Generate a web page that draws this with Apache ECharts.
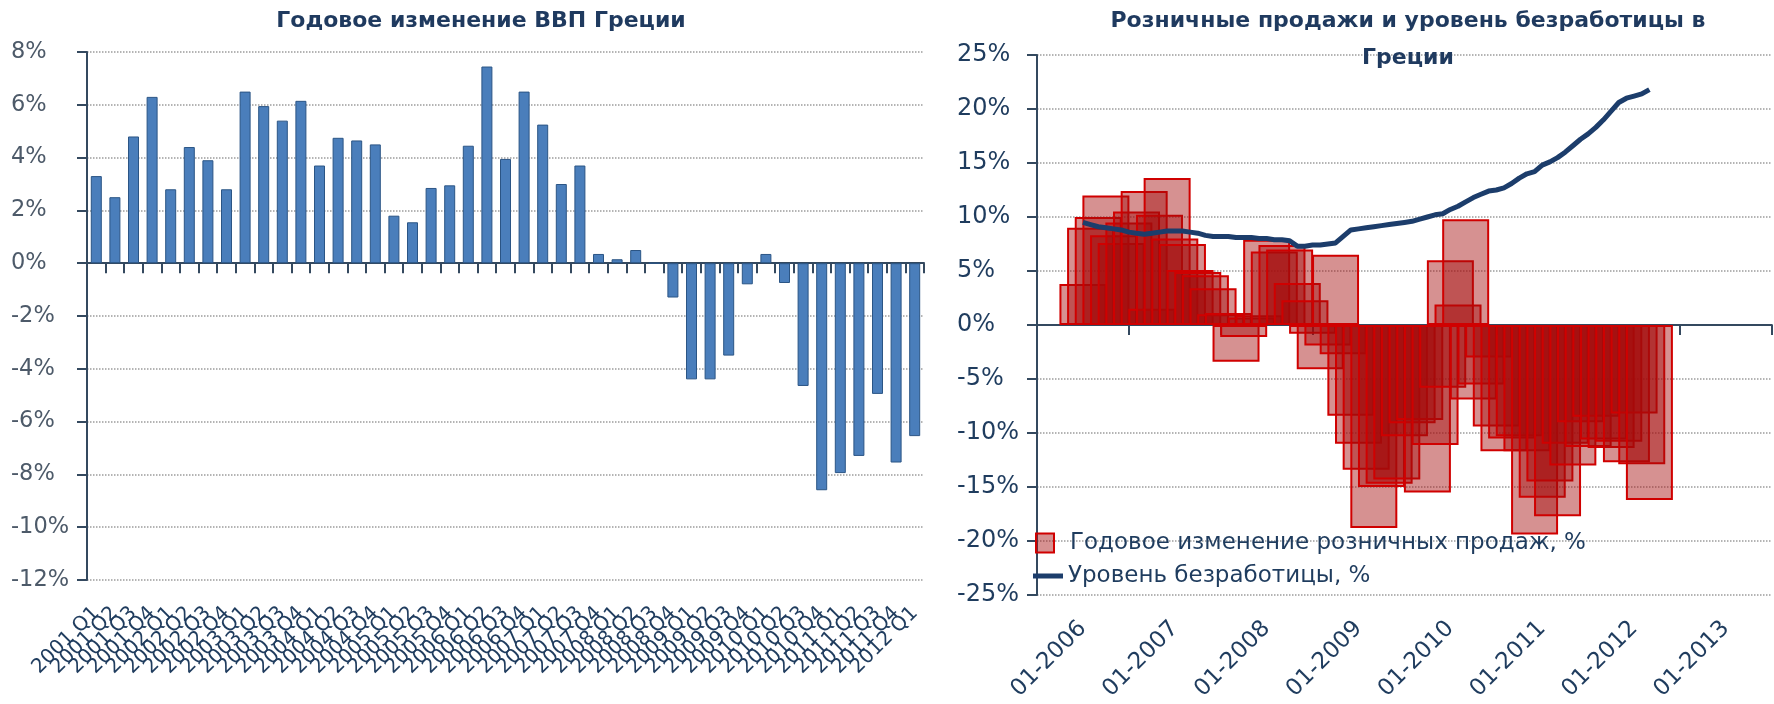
<!DOCTYPE html>
<html>
<head>
<meta charset="utf-8">
<script src="https://cdn.jsdelivr.net/npm/echarts@6/dist/echarts.min.js"></script>
<style>
html,body{margin:0;padding:0;background:#ffffff;}
#chart{width:1774px;height:704px;}
</style>
</head>
<body>
<div id="chart"></div>
<script>
// ---------- DATA ----------
const leftTitle = 'Годовое изменение ВВП Греции';
const rightTitle = 'Розничные продажи и уровень безработицы в\nГреции';

const gdpQuarters = [
  '2001 Q1','2001 Q2','2001 Q3','2001 Q4',
  '2002 Q1','2002 Q2','2002 Q3','2002 Q4',
  '2003 Q1','2003 Q2','2003 Q3','2003 Q4',
  '2004 Q1','2004 Q2','2004 Q3','2004 Q4',
  '2005 Q1','2005 Q2','2005 Q3','2005 Q4',
  '2006 Q1','2006 Q2','2006 Q3','2006 Q4',
  '2007 Q1','2007 Q2','2007 Q3','2007 Q4',
  '2008 Q1','2008 Q2','2008 Q3','2008 Q4',
  '2009 Q1','2009 Q2','2009 Q3','2009 Q4',
  '2010 Q1','2010 Q2','2010 Q3','2010 Q4',
  '2011 Q1','2011 Q2','2011 Q3','2011 Q4',
  '2012 Q1'
];
const gdpGrowth = [
  3.3, 2.5, 4.8, 6.3,
  2.8, 4.4, 3.9, 2.8,
  6.5, 5.95, 5.4, 6.15,
  3.7, 4.75, 4.65, 4.5,
  1.8, 1.55, 2.85, 2.95,
  4.45, 7.45, 3.95, 6.5,
  5.25, 3.0, 3.7, 0.35,
  0.15, 0.5, 0.0, -1.3,
  -4.4, -4.4, -3.5, -0.8,
  0.35, -0.75, -4.65, -8.6,
  -7.95, -7.3, -4.95, -7.55,
  -6.55
];

// Monthly series, first value = 01-2006
const retailName = 'Годовое изменение розничных продаж, %';
const retailSales = [
  3.8, 9.0, 10.0, 12.0, 8.3, 7.6, 9.5, 10.5, 12.4, 1.5, 10.2, 13.6,
  8.0, 7.5, 5.1, 4.9, 4.6, 3.4, 1.0, 1.1, -3.4, -1.1, 0.7, 0.9,
  7.9, 6.8, 7.4, 7.0, 3.9, 2.3, -0.8, -4.1, -1.9, 6.5, -2.7, -8.4,
  -11.0, -13.4, -18.8, -15.0, -14.7, -14.3, -10.3, -9.1, -8.8, -15.5, -11.1, -5.8,
  6.0, 1.9, 9.8, -6.9, -5.5, -3.0, -9.4, -11.7, -10.5, -10.3, -11.7, -19.4,
  -16.0, -14.5, -17.7, -11.0, -13.0, -9.0, -11.3, -8.5, -10.6, -11.4, -10.8, -12.7,
  -8.2, -12.9, -16.2
];
const unempName = 'Уровень безработицы, %';
const unemployment = [
  9.5, 9.3, 9.1, 9.0, 8.9, 8.8, 8.6, 8.5, 8.4, 8.5, 8.6, 8.7,
  8.7, 8.7, 8.6, 8.5, 8.3, 8.2, 8.2, 8.2, 8.1, 8.1, 8.1, 8.0,
  8.0, 7.9, 7.9, 7.8, 7.3, 7.3, 7.4, 7.4, 7.5, 7.6, 8.2, 8.8,
  8.9, 9.0, 9.1, 9.2, 9.3, 9.4, 9.5, 9.6, 9.8, 10.0, 10.2, 10.3,
  10.7, 11.0, 11.4, 11.8, 12.1, 12.4, 12.5, 12.7, 13.1, 13.6, 14.0, 14.2,
  14.8, 15.1, 15.5, 16.0, 16.6, 17.2, 17.7, 18.3, 19.0, 19.8, 20.6, 21.0,
  21.2, 21.4, 21.8
];
const retailTickLabels = ['01-2006','01-2007','01-2008','01-2009','01-2010','01-2011','01-2012','01-2013'];

// ---------- STYLE ----------
const FONT = 'DejaVu Sans';
const NAVY = '#1f3c5e';
const AXIS = '#34495f';
const GRID = '#9c9c9c';

const chart = echarts.init(document.getElementById('chart'), null, {renderer: 'canvas'});

const option = {
  animation: false,
  backgroundColor: '#ffffff',
  title: [
    {
      text: leftTitle, left: 481, top: 3, textAlign: 'center', padding: 0,
      textStyle: {fontFamily: FONT, fontWeight: 'bold', fontSize: 22, color: '#1f3a5f', lineHeight: 37}
    },
    {
      text: rightTitle, left: 1408, top: 3, textAlign: 'center', padding: 0,
      textStyle: {fontFamily: FONT, fontWeight: 'bold', fontSize: 22, color: '#1f3a5f', lineHeight: 37}
    }
  ],
  legend: [
    {
      data: [{name: retailName, icon: 'rect'}],
      left: 1035, top: 531, padding: 0, itemWidth: 18, itemHeight: 19,
      selectedMode: false,
      textStyle: {fontFamily: FONT, fontSize: 23, color: NAVY, lineHeight: 24, padding: [0, 0, 0, 11]}
    },
    {
      data: [{name: unempName, icon: 'rect'}],
      left: 1033, top: 564, padding: 0, itemWidth: 30, itemHeight: 5,
      selectedMode: false,
      textStyle: {fontFamily: FONT, fontSize: 23, color: NAVY, lineHeight: 24}
    }
  ],
  grid: [
    {left: 87, top: 52, width: 837, height: 528},
    {left: 1037, top: 55, width: 735, height: 540}
  ],
  xAxis: [
    { // left chart: labels at the bottom
      gridIndex: 0, type: 'category', data: gdpQuarters, position: 'bottom',
      axisLine: {show: false, onZero: false}, axisTick: {show: false}, splitLine: {show: false},
      axisLabel: {interval: 0, rotate: 45, margin: 30, fontFamily: FONT, fontSize: 20, color: NAVY}
    },
    { // left chart: axis line at zero
      gridIndex: 0, type: 'category', data: gdpQuarters, position: 'bottom',
      axisLine: {show: true, onZero: true, lineStyle: {color: AXIS, width: 2}},
      axisTick: {show: true, interval: 0, length: 10, lineStyle: {color: AXIS, width: 2}},
      axisLabel: {show: false}, splitLine: {show: false}
    },
    { // right chart: month axis, labels at the bottom
      gridIndex: 1, type: 'value', min: -6, max: 90, interval: 6, position: 'bottom',
      axisLine: {show: false, onZero: false}, axisTick: {show: false}, splitLine: {show: false},
      axisLabel: {
        rotate: 45, margin: 30, fontFamily: FONT, fontSize: 23, color: NAVY,
        showMinLabel: true, showMaxLabel: true,
        formatter: function (v) {
          if (v >= 0 && v % 12 === 0 && v / 12 < retailTickLabels.length) return retailTickLabels[v / 12];
          return '';
        }
      }
    },
    { // right chart: axis line at zero with yearly ticks between labels
      gridIndex: 1, type: 'value', min: 0, max: 96, interval: 12, position: 'bottom',
      axisLine: {show: true, onZero: true, lineStyle: {color: AXIS, width: 2}},
      axisTick: {show: true, length: 10, lineStyle: {color: AXIS, width: 2}},
      axisLabel: {show: false}, splitLine: {show: false}
    }
  ],
  yAxis: [
    {
      gridIndex: 0, type: 'value', min: -12, max: 8, interval: 2,
      axisLine: {show: true, onZero: false, lineStyle: {color: AXIS, width: 2}},
      axisTick: {show: true, length: 10, lineStyle: {color: AXIS, width: 2}},
      axisLabel: {formatter: '{value}%', align: 'left', margin: 76, fontFamily: FONT, fontSize: 22.5, color: '#4d5a69'},
      splitLine: {show: true, lineStyle: {type: 'dotted', color: GRID, width: 1.5}}
    },
    {
      gridIndex: 1, type: 'value', min: -25, max: 25, interval: 5,
      axisLine: {show: true, onZero: false, lineStyle: {color: AXIS, width: 2}},
      axisTick: {show: true, length: 10, lineStyle: {color: AXIS, width: 2}},
      axisLabel: {formatter: '{value}%', align: 'left', margin: 80, fontFamily: FONT, fontSize: 24, color: NAVY},
      splitLine: {show: true, lineStyle: {type: 'dotted', color: GRID, width: 1.5}}
    }
  ],
  series: [
    {
      name: 'ВВП', type: 'bar', xAxisIndex: 0, yAxisIndex: 0, data: gdpGrowth, barWidth: 11,
      itemStyle: {color: '#4a7ebb', borderColor: '#2b5585', borderWidth: 1}
    },
    {
      name: retailName, type: 'bar', xAxisIndex: 2, yAxisIndex: 1,
      data: retailSales.map(function (v, i) { return [i, v]; }),
      barWidth: 47,
      itemStyle: {color: 'rgba(165,10,10,0.45)', borderColor: '#d00000', borderWidth: 2}
    },
    {
      name: unempName, type: 'line', xAxisIndex: 2, yAxisIndex: 1,
      data: unemployment.map(function (v, i) { return [i, v]; }),
      symbol: 'none', z: 5,
      itemStyle: {color: '#1c3d6b'},
      lineStyle: {color: '#1c3d6b', width: 5}
    }
  ]
};
chart.setOption(option);
</script>
</body>
</html>
